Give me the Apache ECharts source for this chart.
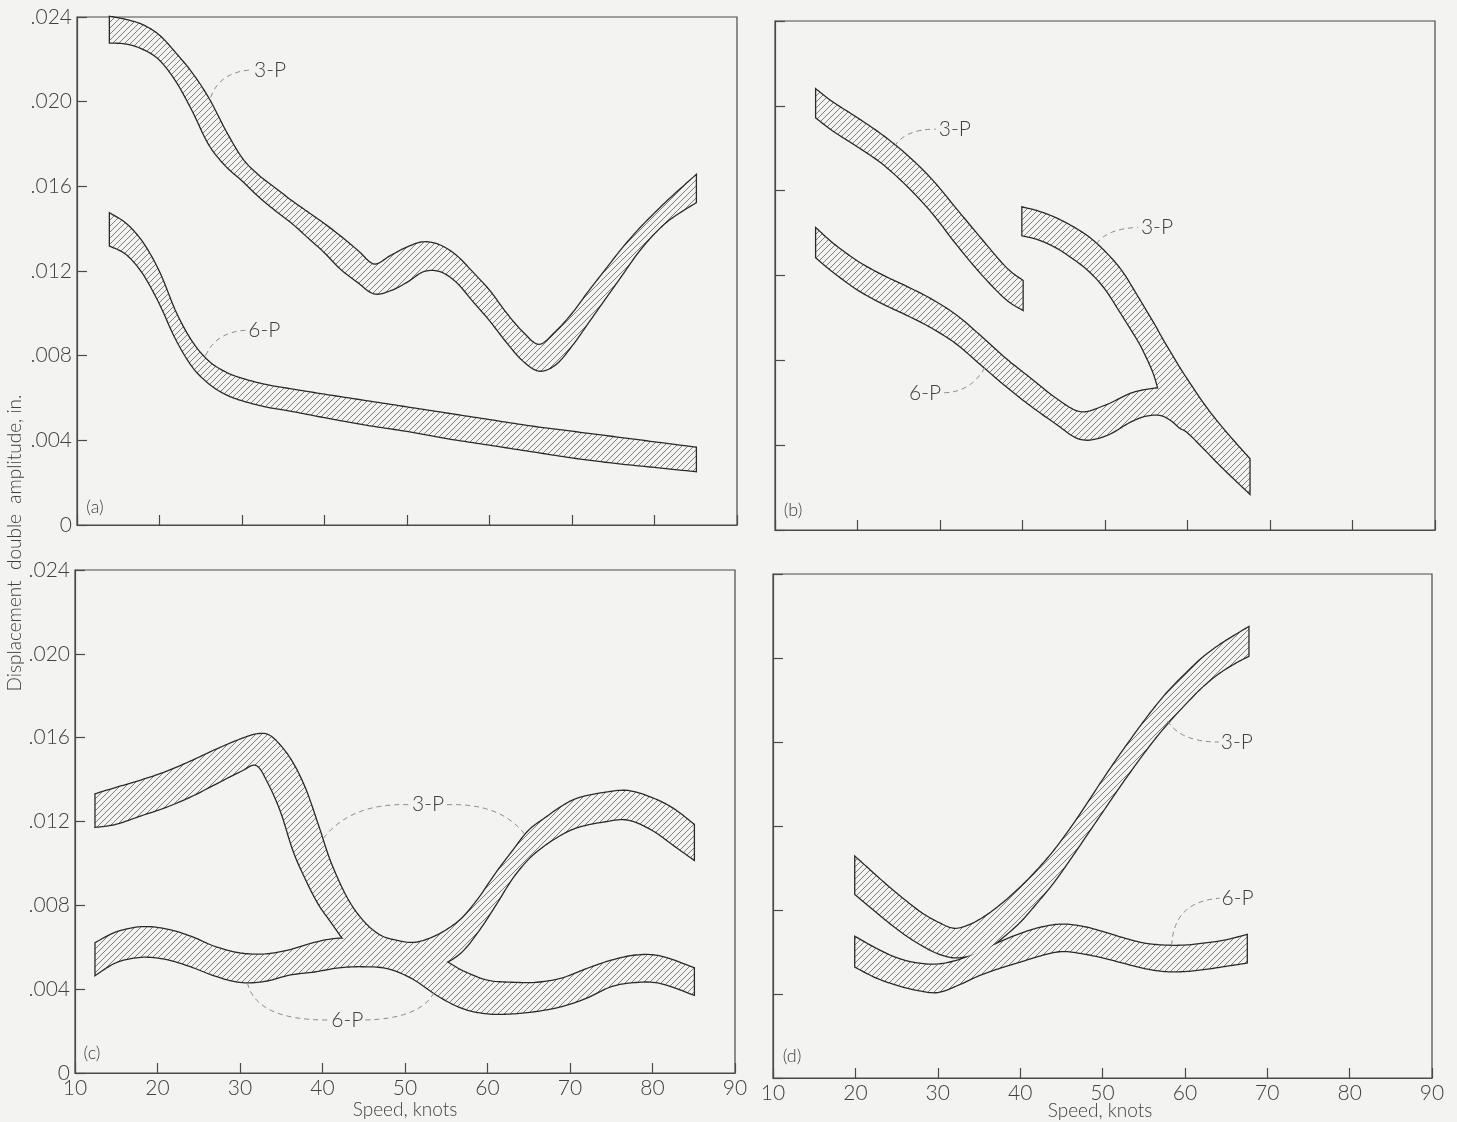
<!DOCTYPE html>
<html><head><meta charset="utf-8">
<script src="https://cdn.jsdelivr.net/npm/echarts/dist/echarts.min.js"></script>
<style>html,body{margin:0;padding:0;background:#f3f3f1;}#c{width:1457px;height:1122px;}</style>
</head><body><div id="c"></div>
<script>
// ---------- tick values / labels ----------
const speedTicks = [10, 20, 30, 40, 50, 60, 70, 80, 90];
const ampTicks = [0, 0.004, 0.008, 0.012, 0.016, 0.020, 0.024];
const ampTickLabels = ['0', '.004', '.008', '.012', '.016', '.020', '.024'];

// ---------- panel (a) ----------
const a3pX  = [14,16,18,20,22,24,26,28,30,32,34,36,38,40,42,44,46,48,50,52,54,56,58,60,62,64,66,68,70,72,74,76,78,80,82,85];
const a3pHi = [.0240,.02385,.0236,.0231,.02225,.0213,.0201,.0186,.0173,.0165,.0159,.0153,.01475,.0142,.0136,.01295,.0123,.0127,.0131,.01335,.0132,.0127,.0119,.01105,.0100,.0091,.0085,.0091,.00995,.0110,.0120,.0130,.0139,.0147,.01545,.0165];
const a3pLo = [.0228,.02275,.0225,.0220,.0210,.0196,.0180,.0170,.0163,.01555,.0149,.0143,.0136,.0129,.0121,.0115,.01095,.0111,.0115,.0120,.0120,.0115,.0106,.0097,.0087,.0078,.0073,.0076,.0085,.0096,.0107,.0118,.0129,.0138,.0145,.01525];
const a6pX  = [14,16,18,20,22,24,26,28,30,33,36,40,45,50,55,60,65,70,75,80,85];
const a6pHi = [.0147,.0142,.0133,.0119,.0100,.0086,.0077,.0072,.0069,.0066,.0064,.00615,.00585,.00555,.00525,.00495,.00465,.0044,.00415,.0039,.00365];
const a6pLo = [.0132,.0128,.0119,.0105,.0088,.0075,.0067,.0062,.0059,.0056,.0054,.0051,.00475,.00445,.0041,.0038,.0035,.0032,.00295,.00275,.00255];

// ---------- panel (b) ----------
const b3pAX  = [15,17,20,23,26,29,32,35,38,40];
const b3pAHi = [.02075,.02015,.0194,.0186,.01765,.0165,.0151,.0137,.01235,.01175];
const b3pALo = [.01945,.01885,.0181,.0173,.01625,.0150,.0135,.0121,.0109,.0104];
const b3pBX  = [40,42,44,46,48,50,52,54,55,56,57,58,59,60,62,64,66,67.5];
const b3pBHi = [.0152,.0150,.0147,.0143,.0138,.0131,.0122,.01095,.0103,.00965,.00895,.0083,.00765,.00705,.0059,.0049,.0040,.00335];
const b3pBLo = [.0139,.0137,.01335,.01285,.01225,.0114,.0102,.00895,.0082,.0073,.0060,.0053,.00485,.00462,.00385,.00305,.0023,.00175];
const b6pX  = [15,17,20,23,26,29,32,35,38,41,44,47,50,53,55,57,59];
const b6pHi = [.0142,.0135,.01265,.0120,.01145,.01085,.0101,.0091,.00805,.00712,.0062,.00555,.00585,.0064,.0066,.00668,.0066];
const b6pLo = [.01285,.0122,.01135,.0107,.01015,.00955,.0088,.0078,.0068,.00588,.00505,.0043,.00445,.0051,.0054,.0054,.0049];

// ---------- panel (c) ----------
const c3pX  = [12.5,15,18,21,24,27,30,32,33.5,35,36.5,38,39.5,41,43,45,47,49,51,53,55,57,59,61,63,65,67,69,71,74,77,80,82.5,85];
const c3pHi = [.0133,.0136,.01395,.01435,.01485,.0154,.0159,.01615,.0161,.01555,.0147,.01345,.01175,.0100,.0083,.0072,.00655,.0063,.0062,.0064,.0068,.0074,.00835,.0095,.01055,.01155,.01215,.0127,.0131,.01335,.01345,.0131,.0126,.01185];
const c3pLo = [.01175,.0119,.0123,.0127,.0132,.0138,.0144,.0147,.0138,.01245,.0106,.00925,.0081,.00725,.0062,.0057,.0054,.00525,.00515,.00515,.0053,.00585,.00685,.00805,.0093,.01025,.0109,.0114,.01175,.0120,.0121,.0116,.0109,.0102];
const c6pX  = [12.5,15,18,21,24,27,30,33,36,39,42,45,48,51,54,57,60,63,66,69,72,75,78,81,85];
const c6pHi = [.0062,.0067,.00695,.00685,.0065,.0060,.0057,.00565,.00585,.0062,.0064,.0063,.0060,.0058,.0055,.00485,.0044,.0043,.0043,.0045,.00495,.00535,.0056,.00555,.0050];
const c6pLo = [.0047,.0053,.00555,.00545,.0051,.00465,.00435,.0044,.0047,.00485,.00505,.0051,.0050,.0045,.0037,.0031,.00285,.00285,.00297,.0032,.0036,.00415,.00435,.0043,.00375];

// ---------- panel (d) ----------
const d3pX  = [20,22,24,26,28,30,32,34,36,38,40,42,44,46,48,50,52,54,56,58,60,62,64,66,67.7];
const d3pHi = [.0105,.0098,.0091,.00845,.00785,.0074,.0071,.0073,.00775,.00835,.00905,.00985,.01075,.0118,.01295,.01415,.0153,.0164,.01745,.0184,.0192,.01995,.02055,.02105,.02145];
const d3pLo = [.00875,.0081,.00745,.00685,.00635,.00595,.00575,.00585,.00615,.00675,.00745,.00835,.0093,.0104,.01155,.0127,.01385,.01495,.0160,.01695,.0178,.0186,.01925,.01975,.0201];
const d6pX  = [20,22.5,25,27.5,30,32.5,35,37.5,40,42.5,45,47.5,50,52.5,55,57.5,60,62.5,65,67.5];
const d6pHi = [.0067,.00615,.0057,.00545,.0054,.0056,.0060,.00645,.00685,.00715,.0073,.0072,.00695,.00665,.0064,.0063,.0063,.0064,.00655,.0068];
const d6pLo = [.0053,.0048,.00445,.0042,.0041,.00445,.0049,.00525,.00555,.00585,.00605,.00595,.00575,.0055,.00525,.0051,.0051,.0052,.00535,.0055];

// ---------- callout labels (data coordinates) ----------
const notesA = [
  {text:'3-P', at:[33.4,.0215], leaders:[[26.2,.0202, 27.3,.0214, 31.1,.0215]]},
  {text:'6-P', at:[32.7,.0092], leaders:[[25.6,.0080, 26.8,.0091, 30.4,.0092]]}
];
const notesB = [
  {text:'3-P', at:[31.8,.0189], leaders:[[24.5,.0181, 25.8,.0189, 29.5,.0189]]},
  {text:'3-P', at:[56.3,.01427], leaders:[[49.0,.0135, 50.2,.0142, 54.0,.01427]]},
  {text:'6-P', at:[28.2,.00647], leaders:[[30.5,.00647, 33.8,.0065, 35.5,.0077]]}
];
const notesC = [
  {text:'3-P', at:[52.8,.0128], leaders:[[40.1,.0112, 43.5,.0129, 50.5,.0128],[55.1,.0128, 61.5,.0129, 64.5,.0114]]},
  {text:'6-P', at:[43.0,.00253], leaders:[[30.9,.0043, 32.0,.0025, 40.8,.00253],[45.2,.00253, 52.0,.0026, 53.6,.0039]]}
];
const notesD = [
  {text:'3-P', at:[66.3,.0160], leaders:[[57.9,.0170, 59.5,.0160, 64.1,.0160]]},
  {text:'6-P', at:[66.4,.00856], leaders:[[58.4,.0063, 58.6,.0084, 64.2,.00856]]}
];

// ---------- styling ----------
const BG = '#f3f3f1';
const INK = '#404040';
const FONT = 'Lato, "DejaVu Sans", sans-serif';

const hatch = (function(){
  const c = document.createElement('canvas');
  c.width = 6; c.height = 6;
  const g = c.getContext('2d');
  g.fillStyle = BG; g.fillRect(0,0,6,6);
  g.strokeStyle = '#6c6c6c'; g.lineWidth = 0.85;
  g.beginPath();
  g.moveTo(0,6); g.lineTo(6,0);
  g.moveTo(-1,1); g.lineTo(1,-1);
  g.moveTo(5,7); g.lineTo(7,5);
  g.stroke();
  return c;
})();

function smoothPts(pts, seg) {
  const out = [], n = pts.length;
  for (let i = 0; i < n - 1; i++) {
    const p0 = pts[Math.max(i-1,0)], p1 = pts[i], p2 = pts[i+1], p3 = pts[Math.min(i+2,n-1)];
    const c1 = [p1[0] + (p2[0]-p0[0])/6, p1[1] + (p2[1]-p0[1])/6];
    const c2 = [p2[0] - (p3[0]-p1[0])/6, p2[1] - (p3[1]-p1[1])/6];
    for (let s = 0; s < seg; s++) {
      const t = s/seg, u = 1-t;
      out.push([
        u*u*u*p1[0] + 3*u*u*t*c1[0] + 3*u*t*t*c2[0] + t*t*t*p2[0],
        u*u*u*p1[1] + 3*u*u*t*c1[1] + 3*u*t*t*c2[1] + t*t*t*p2[1]
      ]);
    }
  }
  out.push(pts[n-1]);
  return out;
}

function makeRender(bands, notes) {
  return function(params, api) {
    const outlines = [], fills = [], extras = [];
    bands.forEach(function(b){
      const up = b.x.map((x,i) => api.coord([x, b.hi[i]]));
      const lo = b.x.map((x,i) => api.coord([x, b.lo[i]]));
      const poly = smoothPts(up, 10).concat(smoothPts(lo, 10).reverse());
      outlines.push({type:'polygon', shape:{points:poly}, style:{fill:'none', stroke:'#2a2a2a', lineWidth:2.6}, silent:true});
      fills.push({type:'polygon', shape:{points:poly}, style:{fill:{image:hatch, repeat:'repeat'}, stroke:null}, silent:true});
    });
    notes.forEach(function(n){
      n.leaders.forEach(function(l){
        const a = api.coord([l[0],l[1]]), c = api.coord([l[2],l[3]]), e = api.coord([l[4],l[5]]);
        extras.push({type:'bezierCurve', shape:{x1:a[0],y1:a[1],cpx1:c[0],cpy1:c[1],x2:e[0],y2:e[1]},
          style:{stroke:'#8a8a8a', lineWidth:1, lineDash:[5,4], fill:null}, silent:true});
      });
      const p = api.coord(n.at);
      extras.push({type:'text', x:p[0], y:p[1], style:{text:n.text, fill:INK, font:'300 21px ' + FONT, align:'center', verticalAlign:'middle'}, silent:true});
    });
    return {type:'group', children: outlines.concat(fills, extras)};
  };
}

const panels = [
  {bands:[{x:a3pX,hi:a3pHi,lo:a3pLo},{x:a6pX,hi:a6pHi,lo:a6pLo}], notes:notesA},
  {bands:[{x:b3pAX,hi:b3pAHi,lo:b3pALo},{x:b3pBX,hi:b3pBHi,lo:b3pBLo},{x:b6pX,hi:b6pHi,lo:b6pLo}], notes:notesB},
  {bands:[{x:c3pX,hi:c3pHi,lo:c3pLo},{x:c6pX,hi:c6pHi,lo:c6pLo}], notes:notesC},
  {bands:[{x:d3pX,hi:d3pHi,lo:d3pLo},{x:d6pX,hi:d6pHi,lo:d6pLo}], notes:notesD}
];

const gridBoxes = [
  {left:77, top:17, width:660, height:508},
  {left:775, top:21, width:660, height:509},
  {left:75, top:570, width:660, height:503},
  {left:773, top:574, width:659, height:504}
];

const axisLineStyle = {color:'#4a4a4a', width:1.2};
const option = {
  backgroundColor: BG,
  animation: false,
  grid: gridBoxes.map(g => Object.assign({show:true, borderColor:'#4a4a4a', borderWidth:1.2, backgroundColor:'transparent'}, g)),
  xAxis: gridBoxes.map((g,i) => ({
    gridIndex:i, type:'value', min:speedTicks[0], max:speedTicks[speedTicks.length-1], interval:10,
    axisLine:{show:true, lineStyle:axisLineStyle},
    axisTick:{show:true, inside:true, length:10, lineStyle:axisLineStyle},
    splitLine:{show:false},
    axisLabel:{show: i >= 2, color:INK, fontFamily:FONT, fontWeight:300, fontSize:21, margin:5}
  })),
  yAxis: gridBoxes.map((g,i) => ({
    gridIndex:i, type:'value', min:ampTicks[0], max:ampTicks[ampTicks.length-1], interval:0.004,
    axisLine:{show:true, lineStyle:axisLineStyle},
    axisTick:{show:true, inside:true, length:10, lineStyle:axisLineStyle},
    splitLine:{show:false},
    axisLabel:{show: i % 2 === 0, color:INK, fontFamily:FONT, fontWeight:300, fontSize:21, margin:5,
      formatter: v => ampTickLabels[Math.round(v/0.004)]}
  })),
  series: panels.map((p,i) => ({
    type:'custom', coordinateSystem:'cartesian2d', xAxisIndex:i, yAxisIndex:i,
    data:[[p.bands[0].x[0], p.bands[0].hi[0]]], renderItem: makeRender(p.bands, p.notes), silent:true
  })),
  graphic: [
    {type:'text', x:15, y:543, rotation:Math.PI/2, style:{text:'Displacement  double  amplitude, in.', fill:INK, font:'300 19px ' + FONT, align:'center', verticalAlign:'middle', textAlign:'center', textVerticalAlign:'middle'}},
    {type:'text', x:405, y:1110, style:{text:'Speed, knots', fill:INK, font:'300 19px ' + FONT, align:'center', verticalAlign:'middle', textAlign:'center', textVerticalAlign:'middle'}},
    {type:'text', x:1100, y:1111, style:{text:'Speed, knots', fill:INK, font:'300 19px ' + FONT, align:'center', verticalAlign:'middle', textAlign:'center', textVerticalAlign:'middle'}},
    {type:'text', x:95, y:507, style:{text:'(a)', fill:INK, font:'300 18px ' + FONT, align:'center', verticalAlign:'middle', textAlign:'center', textVerticalAlign:'middle'}},
    {type:'text', x:793, y:510, style:{text:'(b)', fill:INK, font:'300 18px ' + FONT, align:'center', verticalAlign:'middle', textAlign:'center', textVerticalAlign:'middle'}},
    {type:'text', x:92, y:1053, style:{text:'(c)', fill:INK, font:'300 18px ' + FONT, align:'center', verticalAlign:'middle', textAlign:'center', textVerticalAlign:'middle'}},
    {type:'text', x:792, y:1056, style:{text:'(d)', fill:INK, font:'300 18px ' + FONT, align:'center', verticalAlign:'middle', textAlign:'center', textVerticalAlign:'middle'}}
  ]
};

const chart = echarts.init(document.getElementById('c'), null, {renderer:'canvas'});
chart.setOption(option);
</script>
</body></html>
